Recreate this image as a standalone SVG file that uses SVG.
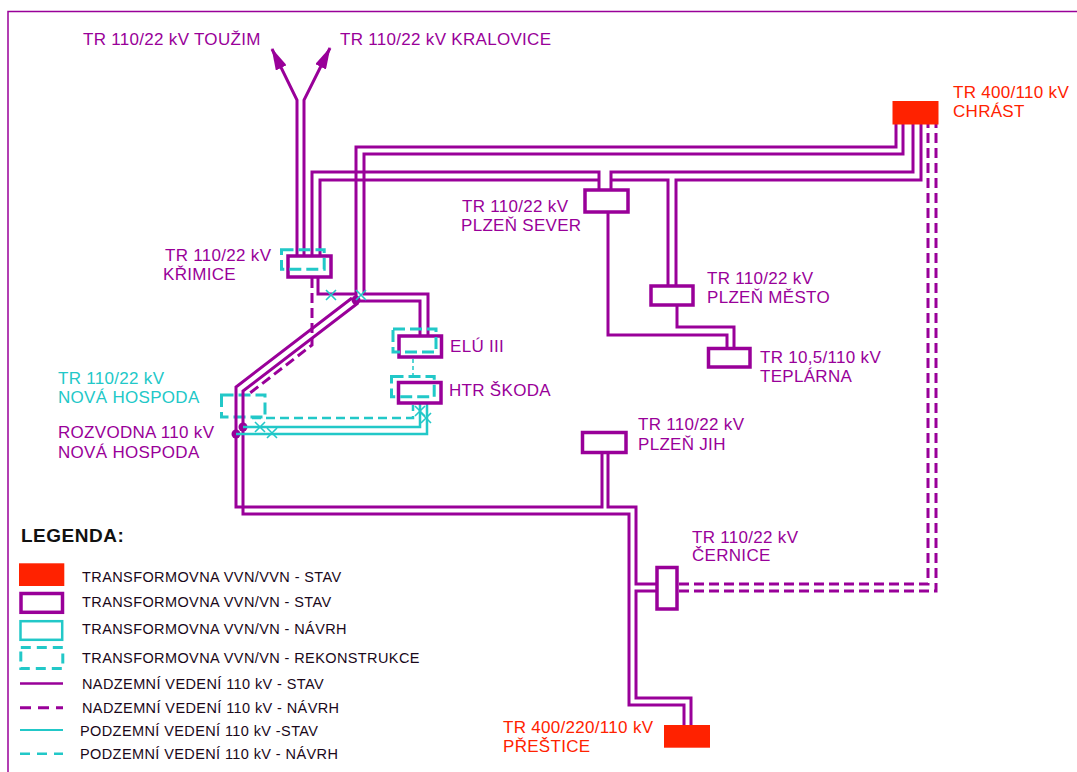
<svg xmlns="http://www.w3.org/2000/svg" width="1077" height="772" viewBox="0 0 1077 772">
<defs>
<marker id="arr" viewBox="0 0 22 12" refX="21" refY="6" markerWidth="22" markerHeight="12" markerUnits="userSpaceOnUse" orient="auto">
<path d="M0,0 L22,6 L0,12 z" fill="#990099"/>
</marker>
</defs>
<style>
text{font-family:"Liberation Sans",Arial,sans-serif;font-size:17px;letter-spacing:0.3px}
.p{fill:#990099}
.r{fill:#ff2200}
.c{fill:#22c8c8}
.lg{font-size:14.5px;letter-spacing:0.4px;fill:#1a081a}
.ln{fill:none;stroke:#990099;stroke-width:3}
.lnd{fill:none;stroke:#990099;stroke-width:3;stroke-dasharray:10,5}
.cl{fill:none;stroke:#22c8c8;stroke-width:2.5}
.cld{fill:none;stroke:#22c8c8;stroke-width:2.5;stroke-dasharray:9,5}
.box{fill:#fff;stroke:#990099;stroke-width:3.5}
.rbox{fill:#ff2200}
.cbox{fill:none;stroke:#22c8c8;stroke-width:3;stroke-dasharray:12,5}
.xm{stroke:#22c8c8;stroke-width:1.6;fill:none}
</style>
<rect width="1077" height="772" fill="#fff"/>
<path d="M8 772 V11.5 H1077" fill="none" stroke="#990099" stroke-width="1.5"/>

<g id="nova-hospoda-rekon"><rect class="cbox" x="221.5" y="395" width="43.5" height="22"/></g>

<g id="connectors">
<path class="ln" d="M297 256 V100 L272 49" marker-end="url(#arr)"/>
<path class="ln" d="M304 256 V100 L330 48" marker-end="url(#arr)"/>
<path class="ln" d="M312 256 V172 H599 V190"/>
<path class="ln" d="M320 256 V180 H599"/>
<path class="ln" d="M913 124 V172 H611 V190"/>
<path class="ln" d="M611 180 H668 V286"/>
<path class="ln" d="M921 124 V180 H676 V286"/>
<path class="ln" d="M608 212 V335 H727 V349"/>
<path class="ln" d="M677 306 V327 H734 V349"/>
<path class="ln" d="M896 124 V147 H356 V300"/>
<path class="ln" d="M903 124 V154 H364 V294 H428 V336"/>
<path class="ln" d="M318 278 V294 H356"/>
<path class="ln" d="M356 301 H420 V336"/>
<path class="ln" d="M352 298 L236 387 V507 H602 V454"/>
<path class="ln" d="M358 303 L243 391 V514 H629 V705 H684 V726"/>
<path class="ln" d="M608 454 V507 H636 V584 H657"/>
<path class="ln" d="M657 591 H636 V698 H691 V726"/>
<path class="lnd" d="M312 278 V345 L250 393"/>
<path class="lnd" d="M679 584 H928 V124"/>
<path class="lnd" d="M679 591 H936 V124"/>
<circle cx="356" cy="300" r="4.5" fill="#990099"/>
<circle cx="236" cy="434" r="4.5" fill="#990099"/>
<circle cx="243" cy="427" r="4.5" fill="#990099"/>
<path class="cld" d="M252 418 H413 V405"/>
<path class="cl" d="M243 427 H420 V404"/>
<path class="cl" d="M236 434 H427 V404"/>
<path d="M413 359 V376" fill="none" stroke="#22c8c8" stroke-width="1.5" stroke-dasharray="4,3"/>
<path class="xm" d="M255 422 L265 432 M265 422 L255 432 M267 428 L277 438 M277 428 L267 438 M415 406 L425 416 M425 406 L415 416 M421 413 L431 423 M431 413 L421 423 M326 290 L336 300 M336 290 L326 300 M356 290 L366 300 M366 290 L356 300"/>
</g>

<g id="touzim"><text class="p" x="83" y="45">TR 110/22 kV TOUŽIM</text></g>
<g id="kralovice"><text class="p" x="340" y="45">TR 110/22 kV KRALOVICE</text></g>

<g id="chrast">
<rect class="rbox" x="892.5" y="101" width="46" height="23.5"/>
<text class="r" x="953" y="98">TR 400/110 kV</text>
<text class="r" x="953" y="117">CHRÁST</text>
</g>

<g id="krimice">
<rect class="box" x="288" y="256" width="43" height="21"/>
<rect class="cbox" x="281.5" y="249.8" width="42.7" height="19.4"/>
<text class="p" x="165" y="261">TR 110/22 kV</text>
<text class="p" x="163" y="280">KŘIMICE</text>
</g>

<g id="plzen-sever">
<rect class="box" x="585" y="190" width="43" height="22"/>
<text class="p" x="462" y="212">TR 110/22 kV</text>
<text class="p" x="461" y="231">PLZEŇ SEVER</text>
</g>

<g id="plzen-mesto">
<rect class="box" x="651" y="286" width="42" height="19"/>
<text class="p" x="707" y="284">TR 110/22 kV</text>
<text class="p" x="707" y="303">PLZEŇ MĚSTO</text>
</g>

<g id="teplarna">
<rect class="box" x="708.5" y="348.5" width="41.5" height="18.5"/>
<text class="p" x="760" y="363">TR 10,5/110 kV</text>
<text class="p" x="760" y="382">TEPLÁRNA</text>
</g>

<g id="elu">
<rect class="box" x="399" y="336" width="42.5" height="21"/>
<rect class="cbox" x="393" y="329" width="43" height="23"/>
<text class="p" x="450" y="352">ELÚ III</text>
</g>

<g id="htr">
<rect class="box" x="398.5" y="382.5" width="42.5" height="20.5"/>
<rect class="cbox" x="391.5" y="376.5" width="42.7" height="20.3"/>
<text class="p" x="449" y="396">HTR ŠKODA</text>
</g>

<g id="nova-hospoda">
<text class="c" x="58" y="384">TR 110/22 kV</text>
<text class="c" x="58" y="403">NOVÁ HOSPODA</text>
<text class="p" x="58" y="438">ROZVODNA 110 kV</text>
<text class="p" x="58" y="458">NOVÁ HOSPODA</text>
</g>

<g id="plzen-jih">
<rect class="box" x="582.5" y="432.5" width="43.5" height="20"/>
<text class="p" x="638" y="430">TR 110/22 kV</text>
<text class="p" x="638" y="450">PLZEŇ JIH</text>
</g>

<g id="cernice">
<rect class="box" x="657" y="567.5" width="20" height="41.5"/>
<text class="p" x="692" y="543">TR 110/22 kV</text>
<text class="p" x="692" y="561">ČERNICE</text>
</g>

<g id="prestice">
<rect class="rbox" x="664" y="725" width="46" height="22.7"/>
<text class="r" x="503" y="733">TR 400/220/110 kV</text>
<text class="r" x="503" y="752">PŘEŠTICE</text>
</g>

<g id="legenda">
<text x="21" y="542" style="font-size:19px;font-weight:bold;letter-spacing:0.5px;fill:#111">LEGENDA:</text>
<rect class="rbox" x="19" y="563.3" width="45.3" height="22.7"/>
<rect x="21" y="593.5" width="41.5" height="18.8" fill="none" stroke="#990099" stroke-width="3.5"/>
<rect x="20.5" y="621.2" width="41.7" height="18.6" fill="none" stroke="#22c8c8" stroke-width="2.5"/>
<rect x="20.8" y="647.5" width="42" height="21" fill="none" stroke="#22c8c8" stroke-width="3" stroke-dasharray="10,6"/>
<path d="M20 683.5 H63" stroke="#990099" stroke-width="2.5"/>
<path d="M20 707.7 H63" stroke="#990099" stroke-width="3" stroke-dasharray="11,7"/>
<path d="M20 730 H63" stroke="#22c8c8" stroke-width="2"/>
<path d="M20 753.7 H63" stroke="#22c8c8" stroke-width="2.5" stroke-dasharray="10,7"/>
<text class="lg" x="82" y="582">TRANSFORMOVNA VVN/VVN - STAV</text>
<text class="lg" x="82" y="607">TRANSFORMOVNA VVN/VN - STAV</text>
<text class="lg" x="82" y="634">TRANSFORMOVNA VVN/VN - NÁVRH</text>
<text class="lg" x="82" y="663">TRANSFORMOVNA VVN/VN - REKONSTRUKCE</text>
<text class="lg" x="82" y="688.5">NADZEMNÍ VEDENÍ 110 kV - STAV</text>
<text class="lg" x="82" y="713">NADZEMNÍ VEDENÍ 110 kV - NÁVRH</text>
<text class="lg" x="80" y="736">PODZEMNÍ VEDENÍ 110 kV -STAV</text>
<text class="lg" x="80" y="758.5">PODZEMNÍ VEDENÍ 110 kV - NÁVRH</text>
</g>
</svg>
